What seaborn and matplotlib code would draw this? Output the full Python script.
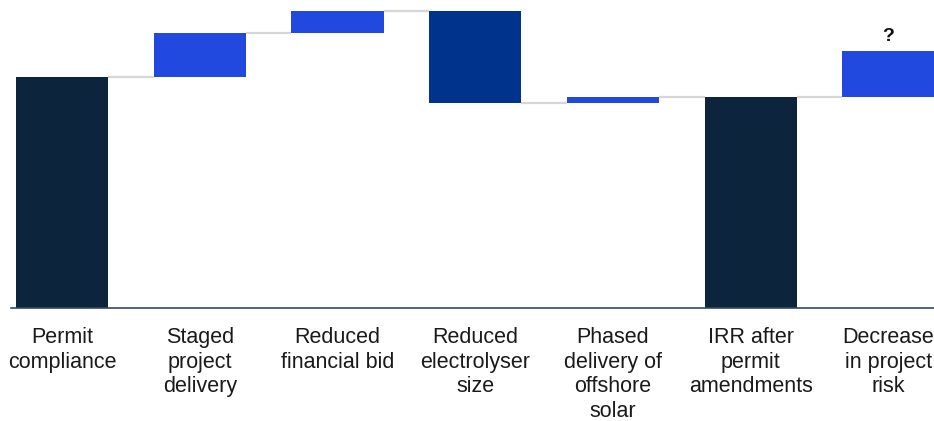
import numpy as np
import pandas as pd
import matplotlib
matplotlib.use("Agg")
import matplotlib.pyplot as plt
import seaborn as sns

sns.set_theme(style="white")
plt.rcParams["font.family"] = ["Liberation Sans", "DejaVu Sans"]

# waterfall values (arbitrary units)
labels = ["Permit\ncompliance", "Staged\nproject\ndelivery", "Reduced\nfinancial bid",
          "Reduced\nelectrolyser\nsize", "Phased\ndelivery of\noffshore\nsolar",
          "IRR after\npermit\namendments", "Decrease\nin project\nrisk"]
start = 10.0
steps = [1.9, 0.97, -4.0, 0.26]
risk = 2.0
kinds = ["total", "up", "up", "down", "up", "total", "up"]

NAVY, BLUE, DARK = "#0C243C", "#2149E0", "#00338C"
colors = {"total": NAVY, "up": BLUE, "down": DARK}

# build bar bottoms/heights from the values
levels = [start]
for s in steps:
    levels.append(levels[-1] + s)
total = levels[-1]
bottoms, heights = [0.0], [start]
for i, s in enumerate(steps):
    bottoms.append(min(levels[i], levels[i + 1])); heights.append(abs(s))
bottoms += [0.0, total]
heights += [total, risk]
ends = levels + [total, total + risk]

df = pd.DataFrame({"label": labels, "height": heights, "bottom": bottoms})

fig = plt.figure(figsize=(9.34, 4.21), dpi=100)
ax = fig.add_axes([11 / 934, 1 - 308 / 421, 923 / 934, 308 / 421])
sns.barplot(data=df, x="label", y="height", bottom=df["bottom"].values,
            order=labels, width=0.67, color=BLUE, ax=ax, linewidth=0)
for p, k in zip(ax.patches, kinds):
    p.set_facecolor(colors[k])

# connectors between bars
half = 0.335
for i in range(len(labels) - 1):
    ax.hlines(ends[i], i + half, i + 1 - half, color="#D6D6D6", lw=1.6, zorder=0)

ax.text(6, total + risk + 0.25, "?", ha="center", va="bottom",
        fontsize=14, fontweight="bold", color="#111111")

ax.set_xlim(-0.37, 6.33)
ax.set_ylim(0, 308 / 23.1)
ax.set(xlabel="", ylabel="")
ax.set_yticks([])
ax.tick_params(axis="x", length=0, pad=14, labelsize=15.5, labelcolor="#1a1a1a")
for lab in ax.get_xticklabels():
    lab.set_linespacing(1.22)
for s in ["top", "right", "left"]:
    ax.spines[s].set_visible(False)
ax.spines["bottom"].set_color("#34495E")
ax.spines["bottom"].set_linewidth(1.2)

fig.savefig("out.png", dpi=100)
